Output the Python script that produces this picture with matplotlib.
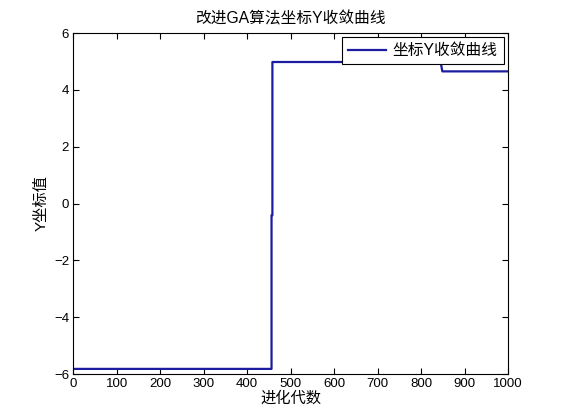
# Convergence curve of the Y coordinate (improved GA), MATLAB-style figure
import matplotlib.pyplot as plt

plt.rcParams['font.family'] = ['Liberation Sans', 'Noto Sans CJK SC', 'DejaVu Sans']

# step curve (generation, best Y)
gens = [0, 456, 456, 458, 458, 845, 849, 1000]
y_best = [-5.82, -5.82, -0.41, -0.41, 4.98, 4.98, 4.65, 4.65]

xticks = list(range(0, 1001, 100))
yticks = [-6, -4, -2, 0, 2, 4, 6]

fig = plt.figure(figsize=(5.61, 4.2), dpi=100)
ax = fig.add_axes([0.1307, 0.1095, 0.7748, 0.8119])

ax.plot(gens, y_best, color="#1c1ca0", lw=1.6, label="坐标Y收敛曲线")

ax.set_xlim(0, 1000)
ax.set_ylim(-6, 6)
ax.set_xticks(xticks)
ax.set_yticks(yticks)
ax.tick_params(direction="in", top=True, right=True, length=4, labelsize=9.5,
               pad=3)
for s in ax.spines.values():
    s.set_linewidth(0.8)

ax.set_title("改进GA算法坐标Y收敛曲线", fontsize=11.3, pad=7)
ax.set_xlabel("进化代数", fontsize=11, labelpad=1)
ax.set_ylabel("Y坐标值", fontsize=11, labelpad=4)

leg = ax.legend(loc="upper right", fontsize=11.3, fancybox=False, framealpha=1,
                edgecolor="black", borderaxespad=0.25, handlelength=2.4,
                handletextpad=0.45, borderpad=0.4)
leg.get_frame().set_linewidth(0.8)

fig.savefig("out.png", dpi=100)
